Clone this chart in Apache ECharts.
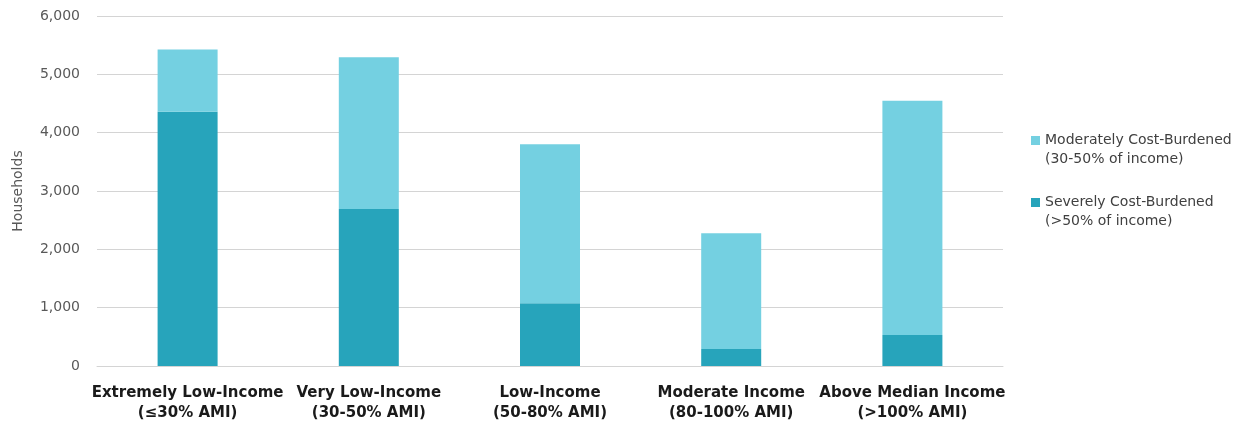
<!DOCTYPE html>
<html>
<head>
<meta charset="utf-8">
<script src="https://cdn.jsdelivr.net/npm/echarts@6/dist/echarts.min.js"></script>
<style>html,body{margin:0;padding:0;background:#fff}#c{width:1250px;height:426px}</style>
</head>
<body>
<div id="c"></div>
<script>
var categories = [
  'Extremely Low-Income\n(\u226430% AMI)',
  'Very Low-Income\n(30-50% AMI)',
  'Low-Income\n(50-80% AMI)',
  'Moderate Income\n(80-100% AMI)',
  'Above Median Income\n(>100% AMI)'
];
var severe = [4360, 2691, 1075, 292, 532];
var moderate = [1064, 2601, 2725, 1982, 4014];
var seriesNames = ['Severely Cost-Burdened\n(>50% of income)', 'Moderately Cost-Burdened\n(30-50% of income)'];
var yTicks = { min: 0, max: 6000, interval: 1000 };

var chart = echarts.init(document.getElementById('c'), null, { renderer: 'canvas' });
var font = 'DejaVu Sans';
chart.setOption({
  animation: false,
  textStyle: { fontFamily: font },
  grid: { left: 97, right: 247, top: 16, bottom: 60, containLabel: false },
  legend: {
    orient: 'vertical',
    left: 1031,
    top: 112,
    padding: 0,
    itemGap: 5,
    itemWidth: 9,
    itemHeight: 9,
    icon: 'rect',
    data: [seriesNames[1], seriesNames[0]],
    formatter: function (name) {
      var parts = name.split('\n');
      return '{e| }\n{t|' + parts[0] + '}\n{t|' + parts[1] + '}';
    },
    textStyle: {
      fontFamily: font, fontSize: 14, color: '#404040', lineHeight: 19,
      rich: {
        e: { fontSize: 14, lineHeight: 19 },
        t: { fontFamily: font, fontSize: 14, color: '#404040', lineHeight: 19 }
      }
    }
  },
  xAxis: {
    type: 'category',
    data: categories,
    axisLine: { show: true, lineStyle: { color: '#d4d4d4', width: 1 } },
    axisTick: { show: false },
    axisLabel: { interval: 0, margin: 17, fontFamily: font, fontWeight: 'bold', fontSize: 15, color: '#1a1a1a', lineHeight: 20 }
  },
  yAxis: {
    type: 'value',
    min: yTicks.min,
    max: yTicks.max,
    interval: yTicks.interval,
    name: 'Households',
    nameLocation: 'middle',
    nameGap: 72,
    nameTextStyle: { fontFamily: font, fontSize: 14, color: '#595959' },
    axisLine: { show: false },
    axisTick: { show: false },
    splitLine: { lineStyle: { color: '#d4d4d4', width: 1 } },
    axisLabel: {
      margin: 17, fontFamily: font, fontSize: 14, color: '#595959',
      formatter: function (v) { return v.toLocaleString('en-US'); }
    }
  },
  series: [
    { name: seriesNames[0], type: 'bar', stack: 't', data: severe, barWidth: 60,
      itemStyle: { color: '#27a4bb' } },
    { name: seriesNames[1], type: 'bar', stack: 't', data: moderate, barWidth: 60,
      itemStyle: { color: '#74d0e1' } }
  ]
});
</script>
</body>
</html>
